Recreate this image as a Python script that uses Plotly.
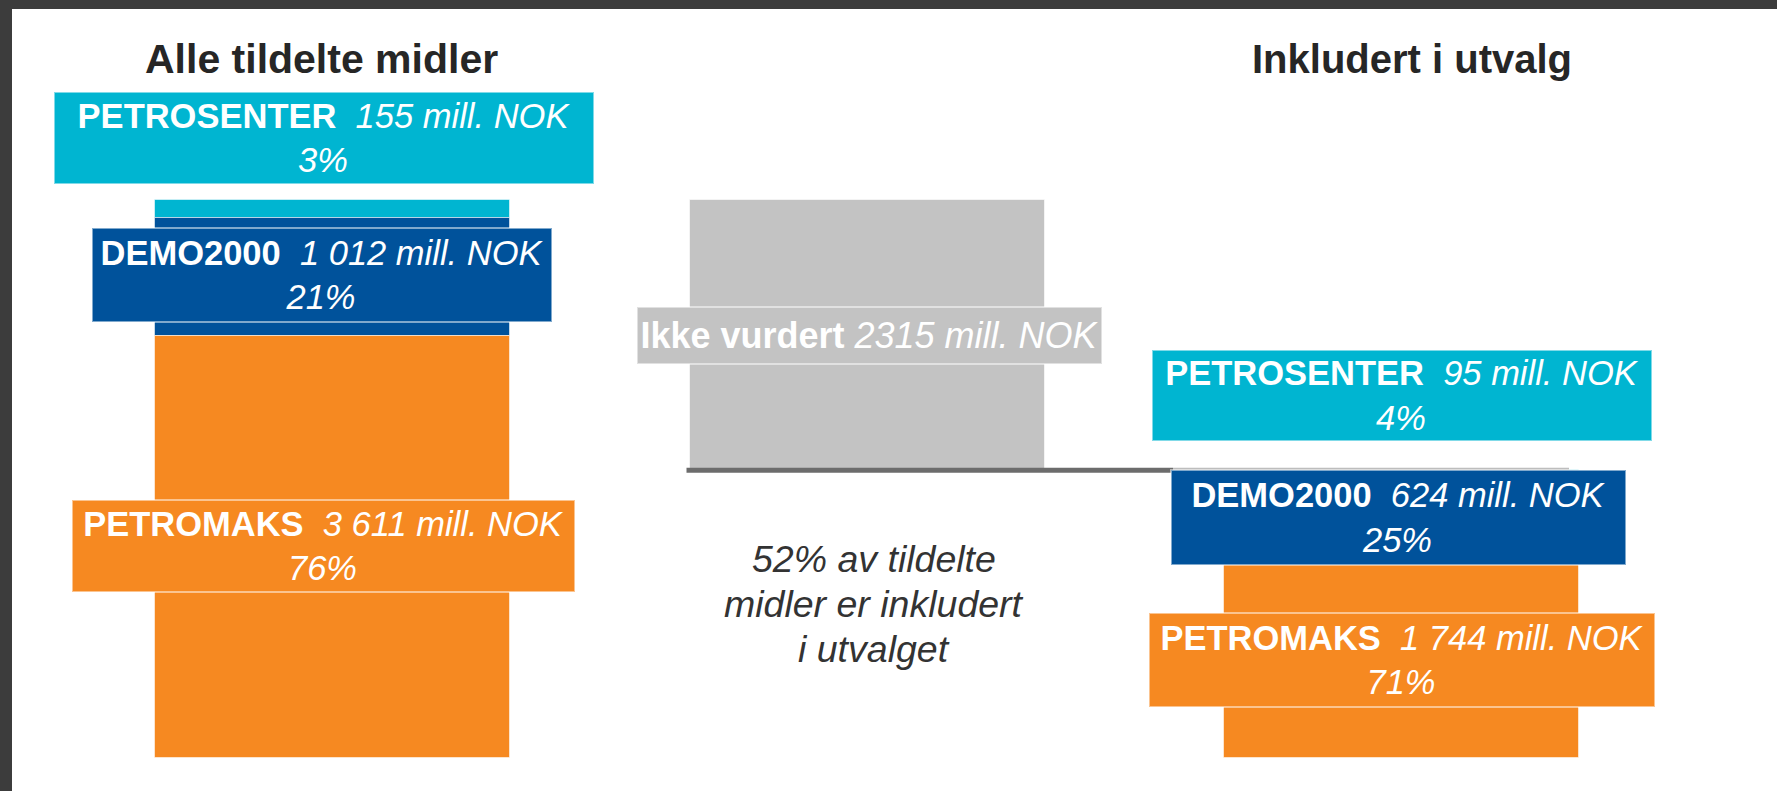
import plotly.graph_objects as go

# ---------------- data ----------------
columns = ["Alle tildelte midler", "Ikke vurdert", "Inkludert i utvalg"]
programs = ["PETROSENTER", "DEMO2000", "PETROMAKS"]
alle_values = [155, 1012, 3611]      # mill. NOK
alle_pct = [3, 21, 76]
utvalg_values = [95, 624, 1744]      # mill. NOK
utvalg_pct = [4, 25, 71]
ikke_value = 2315                    # mill. NOK
note_lines = ["52% av tildelte", "midler er inkludert", "i utvalget"]

# ---------------- style ----------------
prog_colors = {"PETROSENTER": "#00B5D1", "DEMO2000": "#00529B", "PETROMAKS": "#F68921"}
gray = "#C3C3C3"
FONT = "Liberation Sans, Arial, sans-serif"
W, H = 1777, 791

# pixel mapping (full-bleed plot area)
x_ppu = 534.5                      # px per category step
x0 = -332.5 / x_ppu
x_range = [x0, x0 + W / x_ppu]
y_ppu = 558 / sum(alle_values)     # px per mill. NOK
y_top = 758 / y_ppu
y_range = [y_top - H / y_ppu, y_top]
bar_w = 355 / x_ppu

def fmt(v):
    return f"{v:,}".replace(",", " ")

fig = go.Figure()

total_alle = sum(alle_values)
total_utv = sum(utvalg_values)

def stack(values, top):
    bases, cur = [], top
    for v in values:
        cur -= v
        bases.append(cur)
    return bases

alle_bases = stack(alle_values, total_alle)
utv_bases = stack(utvalg_values, total_utv)

edge = dict(color="rgba(255,255,255,0.55)", width=1)

for i, p in enumerate(programs):
    fig.add_trace(go.Bar(x=[0], y=[alle_values[i]], base=[alle_bases[i]], width=bar_w,
                         marker=dict(color=prog_colors[p], line=edge), showlegend=False,
                         hoverinfo="skip"))
# gray waterfall bar
fig.add_trace(go.Bar(x=[1], y=[ikke_value], base=[total_utv], width=bar_w,
                     marker=dict(color=gray, line=dict(color="rgba(255,255,255,0.6)", width=1)),
                     showlegend=False, hoverinfo="skip"))
for i, p in enumerate(programs):
    fig.add_trace(go.Bar(x=[2], y=[utvalg_values[i]], base=[utv_bases[i]], width=bar_w,
                         marker=dict(color=prog_colors[p], line=edge), showlegend=False,
                         hoverinfo="skip"))

# connector line at included level
demo_box_w_right = 457
split_x = 2 - (demo_box_w_right / 2) / x_ppu
line_start = 1 - bar_w / 2 - 3 / x_ppu
line_end = 2 + bar_w / 2 - 10 / x_ppu
fig.add_trace(go.Scatter(x=[line_start, split_x], y=[total_utv, total_utv], mode="lines",
                         line=dict(color="#6C6C6C", width=5), showlegend=False, hoverinfo="skip"))
fig.add_trace(go.Scatter(x=[split_x, line_end], y=[total_utv, total_utv], mode="lines",
                         line=dict(color="#BDBDBD", width=5), showlegend=False, hoverinfo="skip"))

annotations = []

def label_box(x, y, text, color, w, h, xshift=0, yshift=0, size=34.5):
    bw = 2
    annotations.append(dict(
        x=x, y=y, xref="x", yref="y", text=text, showarrow=False,
        font=dict(family=FONT, size=size, color="white"),
        bgcolor=color, bordercolor="rgba(255,255,255,0.5)", borderwidth=bw, borderpad=0,
        width=w - 2 * bw, height=h - 2 * bw, align="center", valign="middle",
        xshift=xshift, yshift=yshift, xanchor="center", yanchor="middle"))

left_boxes = {"PETROSENTER": (542, 94, -9, 71), "DEMO2000": (462, 96, -11, 2), "PETROMAKS": (505, 94, -9, 1)}
right_boxes = {"PETROSENTER": (502, 93, 0, 80), "DEMO2000": (457, 97, -3, 0), "PETROMAKS": (508, 96, 0, -4)}

for i, p in enumerate(programs):
    w, h, xs, ys = left_boxes[p]
    txt = f"<b>{p}</b>&nbsp; <i>{fmt(alle_values[i])} mill. NOK</i><br><i>{alle_pct[i]}%</i>"
    label_box(0, alle_bases[i] + alle_values[i] / 2, txt, prog_colors[p], w, h, xs, ys)
    w, h, xs, ys = right_boxes[p]
    txt = f"<b>{p}</b>&nbsp; <i>{fmt(utvalg_values[i])} mill. NOK</i><br><i>{utvalg_pct[i]}%</i>"
    label_box(2, utv_bases[i] + utvalg_values[i] / 2, txt, prog_colors[p], w, h, xs, ys)

label_box(1, total_utv + ikke_value / 2, f"<b>{columns[1]}</b> <i>{ikke_value} mill. NOK</i>",
          gray, 467, 59, 2, 0, size=36)

# column titles
title_y = (758 - 59) / y_ppu
annotations.append(dict(x=0, y=title_y, xref="x", yref="y", text=f"<b>{columns[0]}</b>",
                        showarrow=False, xshift=-11, font=dict(family=FONT, size=41, color="#262626")))
annotations.append(dict(x=2, y=title_y, xref="x", yref="y", text=f"<b>{columns[2]}</b>",
                        showarrow=False, xshift=10, font=dict(family=FONT, size=40, color="#262626")))

# note text, one annotation per line (45 px line pitch)
note_center_y = (758 - 604) / y_ppu
for i, line in enumerate(note_lines):
    annotations.append(dict(x=1, y=note_center_y, xref="x", yref="y", text=f"<i>{line}</i>",
                            showarrow=False, xshift=7, yshift=(1 - i) * 45,
                            font=dict(family=FONT, size=37.5, color="#333333")))

# dark frame bands (top and left)
shapes = [
    dict(type="rect", xref="paper", yref="paper", x0=0, x1=1, y0=1 - 9 / H, y1=1,
         fillcolor="#3C3C3C", line=dict(width=0)),
    dict(type="rect", xref="paper", yref="paper", x0=0, x1=12 / W, y0=0, y1=1,
         fillcolor="#3C3C3C", line=dict(width=0)),
]

fig.update_layout(
    width=W, height=H, autosize=False,
    margin=dict(l=0, r=0, t=0, b=0, pad=0),
    paper_bgcolor="white", plot_bgcolor="white",
    barmode="overlay", bargap=0,
    xaxis=dict(range=x_range, visible=False, fixedrange=True),
    yaxis=dict(range=y_range, visible=False, fixedrange=True),
    annotations=annotations, shapes=shapes,
)

fig.write_html("out.html", config={"displayModeBar": False},
               post_script="document.body.style.margin='0';document.body.style.overflow='hidden';")
